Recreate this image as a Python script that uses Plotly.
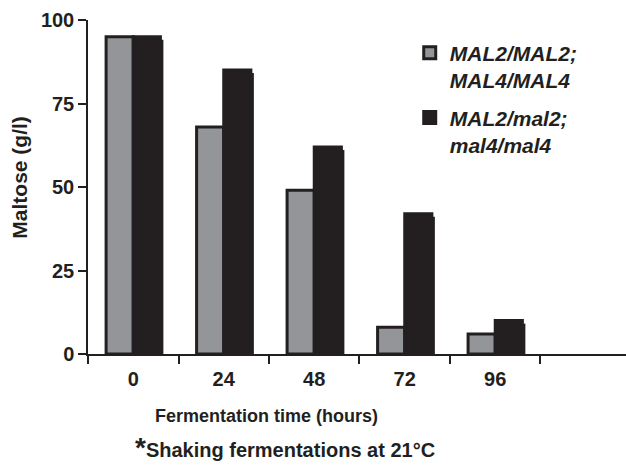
import plotly.graph_objects as go

# Fermentation sampling times (hours) and residual maltose (g/l)
times = ["0", "24", "48", "72", "96"]
maltose_wt = [95, 68, 49, 8, 6]        # MAL2/MAL2; MAL4/MAL4
maltose_mut = [95, 85, 62, 42, 10]     # MAL2/mal2; mal4/mal4
y_ticks = [0, 25, 50, 75, 100]

INK = "#231f20"
GREY = "#939598"
FONT = "Liberation Sans, Arial, sans-serif"

bar_w = 0.3
shadow_dx = 0.033   # drop-shadow shift (category units)
shadow_dy = 0.9     # drop-shadow drop (g/l units)

fig = go.Figure()

# soft drop shadow behind the dark bars
fig.add_trace(go.Bar(
    x=times, y=[v - shadow_dy for v in maltose_mut],
    width=bar_w, offset=shadow_dx,
    marker=dict(color=INK, line=dict(color=INK, width=0)),
    showlegend=False, hoverinfo="skip",
))
fig.add_trace(go.Bar(
    x=times, y=maltose_wt, name="MAL2/MAL2;<br>MAL4/MAL4", legendgroup="a",
    width=bar_w, offset=-bar_w,
    marker=dict(color=GREY, line=dict(color=INK, width=3)),
))
fig.add_trace(go.Bar(
    x=times, y=maltose_mut, name="MAL2/mal2;<br>mal4/mal4", legendgroup="b",
    width=bar_w, offset=0,
    marker=dict(color=INK, line=dict(color=INK, width=3)),
))

fig.update_layout(
    width=626, height=465,
    margin=dict(l=88, r=0, t=20, b=111),
    paper_bgcolor="white", plot_bgcolor="white",
    barmode="overlay",
    font=dict(family=FONT, size=20, color=INK, weight="bold"),
    legend=dict(
        x=0.598, y=0.962, xanchor="left", yanchor="top",
        font=dict(family=FONT, size=21, color=INK, weight="bold", style="italic"),
        valign="top", tracegroupgap=7, bgcolor="rgba(0,0,0,0)",
    ),
    xaxis=dict(
        type="category", categoryorder="array", categoryarray=times,
        range=[-0.5, 5.445],
        showline=True, linecolor=INK, linewidth=1.5,
        ticks="outside", tickson="boundaries", ticklen=8, tickwidth=1.5, tickcolor=INK,
        ticklabelstandoff=6,
        showgrid=False, zeroline=False,
        tickfont=dict(family=FONT, size=20, color=INK, weight="bold"),
    ),
    yaxis=dict(
        range=[0, 100], tickvals=y_ticks,
        showline=True, linecolor=INK, linewidth=1.5,
        ticks="outside", ticklen=8, tickwidth=1.5, tickcolor=INK,
        showgrid=False, zeroline=False,
        tickfont=dict(family=FONT, size=20, color=INK, weight="bold"),
    ),
    annotations=[
        dict(text="Fermentation time (hours)", xref="paper", yref="paper",
             x=(266 - 88) / 538, y=-0.185, xanchor="center", yanchor="middle",
             showarrow=False, font=dict(family=FONT, size=18, color=INK, weight="bold")),
        dict(text="<span style='font-size:28px'>*</span>Shaking fermentations at 21°C",
             xref="paper", yref="paper",
             x=(285 - 88) / 538, y=-0.28, xanchor="center", yanchor="middle",
             showarrow=False, font=dict(family=FONT, size=20, color=INK, weight="bold")),
        dict(text="Maltose (g/l)", xref="paper", yref="paper",
             x=(20 - 88) / 538, y=(354.3 - 178) / 334, xanchor="center", yanchor="middle",
             textangle=-90, showarrow=False,
             font=dict(family=FONT, size=21, color=INK, weight="bold")),
    ],
)

fig.write_html("out.html")
